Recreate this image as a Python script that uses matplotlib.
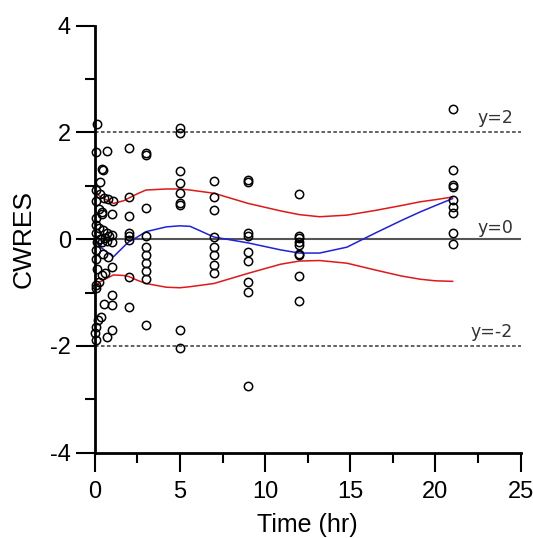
import numpy as np
import matplotlib
matplotlib.use('Agg')
import matplotlib.pyplot as plt

plt.rcParams['axes.unicode_minus'] = False

# osservazioni CWRES per tempo (hr)
t_obs = np.array([
    0.15, 0.1, 0.75, 0.45, 0.5, 0.3, 0.1, 0.3, 0.55, 0.8, 1.05, 0.05, 0.25, 0.4, 0.45, 1.0,
    0.1, 0.05, 0.25, 0.5, 0.75, 0.05, 1.0, 0.3, 0.6, 0.85, 0.15, 0.45, 0.7, 1.0, 0.1, 0.5,
    0.1, 0.8, 0.15, 1.0, 0.6, 0.45, 0.25, 0.1, 0.05, 1.0, 0.55, 1.0, 0.35, 0.2, 0.1, 1.0,
    0.0, 0.75, 0.05,
    2, 2, 2, 2, 2, 2, 2, 2,
    3, 3, 3, 3, 3, 3, 3, 3, 3, 3,
    5, 5, 5, 5, 5, 5, 5, 5, 5,
    7, 7, 7, 7, 7, 7, 7, 7,
    9, 9, 9, 9, 9, 9, 9, 9, 9,
    12, 12, 12, 12, 12, 12, 12, 12, 12,
    21, 21, 21, 21, 21, 21, 21, 21, 21])
cwres = np.array([
    2.15, 1.63, 1.65, 1.31, 1.29, 1.08, 0.93, 0.85, 0.78, 0.75, 0.72, 0.72, 0.57, 0.50, 0.47, 0.48,
    0.40, 0.26, 0.20, 0.17, 0.12, 0.11, 0.07, 0.0, 0.02, 0.05, -0.05, -0.06, -0.04, -0.05, -0.20, -0.27,
    -0.37, -0.33, -0.55, -0.52, -0.63, -0.68, -0.80, -0.86, -0.92, -1.05, -1.22, -1.24, -1.45, -1.52, -1.64, -1.70,
    -1.76, -1.84, -1.89,
    1.70, 0.79, 0.43, 0.11, 0.06, -0.02, -0.71, -1.27,
    1.62, 1.57, 0.58, 0.05, -0.15, -0.30, -0.45, -0.60, -0.75, -1.60,
    2.08, 1.98, 1.27, 1.05, 0.86, 0.67, 0.64, -1.70, -2.04,
    1.09, 0.79, 0.54, 0.04, -0.15, -0.30, -0.49, -0.64,
    1.10, 1.07, 0.11, 0.06, -0.24, -0.41, -0.80, -0.99, -2.75,
    0.84, 0.06, 0.02, -0.05, -0.11, -0.27, -0.30, -0.69, -1.16,
    2.43, 1.29, 1.01, 0.97, 0.73, 0.61, 0.49, 0.11, -0.09])

# curve di tendenza
t_fit = np.array([0.0, 0.3, 1.1, 1.7, 2.0, 2.5, 3.0, 4.2, 5.0, 5.6, 7.0, 9.0, 10.9, 12.0,
                  13.2, 14.8, 16.5, 18.0, 19.1, 20.0, 21.0])
med_fit = np.array([-0.02, -0.14, -0.33, -0.14, -0.05, 0.04, 0.14, 0.23, 0.25, 0.24, 0.04,
                    -0.07, -0.20, -0.26, -0.26, -0.15, 0.12, 0.35, 0.51, 0.63, 0.76])
up_fit = np.array([0.90, 0.80, 0.67, 0.72, 0.77, 0.85, 0.92, 0.94, 0.94, 0.92, 0.86, 0.67,
                   0.53, 0.46, 0.42, 0.45, 0.54, 0.63, 0.70, 0.74, 0.79])
lo_fit = np.array([-0.89, -0.80, -0.67, -0.68, -0.70, -0.77, -0.83, -0.90, -0.91, -0.89, -0.83,
                   -0.64, -0.47, -0.41, -0.40, -0.45, -0.58, -0.69, -0.75, -0.78, -0.79])

ref_y = [2, 0, -2]
ref_lab = ['y=2', 'y=0', 'y=-2']

fig = plt.figure(figsize=(5.33, 5.38), dpi=100)
ax = fig.add_axes([0.1777, 0.1585, 0.7992, 0.7939])

ax.axhline(2, color='#555555', lw=1.3, ls=(0, (2.0, 1.3)), zorder=1)
ax.axhline(-2, color='#555555', lw=1.3, ls=(0, (2.0, 1.3)), zorder=1)
ax.axhline(0, color='#555555', lw=1.5, zorder=1)

ax.plot(t_obs, cwres, 'o', mfc='none', mec='black', ms=6, mew=1.1, zorder=3, clip_on=False)
ax.plot(t_fit, up_fit, color='#e01818', lw=1.1, zorder=2)
ax.plot(t_fit, lo_fit, color='#e01818', lw=1.1, zorder=2)
ax.plot(t_fit, med_fit, color='#2020e0', lw=1.1, zorder=2)

offs = [0.17, 0.11, 0.16]
for yv, lab, o in zip(ref_y, ref_lab, offs):
    ax.text(24.55, yv + o, lab, ha='right', va='baseline', fontsize=12.5,
            color='#333333', family='DejaVu Sans')

ax.set_xlim(0, 25)
ax.set_ylim(-4, 4)
ax.set_xticks([0, 5, 10, 15, 20, 25])
ax.set_xticks([2.5, 7.5, 12.5, 17.5, 22.5], minor=True)
ax.set_yticks([-4, -2, 0, 2, 4])
ax.set_yticks([-3, -1, 1, 3], minor=True)

for s in ['top', 'right']:
    ax.spines[s].set_visible(False)
for s in ['left', 'bottom']:
    ax.spines[s].set_linewidth(2.0)

ax.tick_params(which='major', length=14, width=1.5, direction='out')
ax.tick_params(which='minor', length=7, width=1.5, direction='out')
ax.tick_params(axis='y', which='major', pad=3)
ax.tick_params(axis='x', which='major', pad=6)
for lbl in ax.get_xticklabels() + ax.get_yticklabels():
    lbl.set_family('Liberation Sans')
    lbl.set_fontsize(17)

ax.set_xlabel('Time (hr)', fontsize=18, family='Liberation Sans')
ax.set_ylabel('CWRES', fontsize=19, family='Liberation Sans')
ax.xaxis.set_label_coords(0.5, -0.142)
ax.yaxis.set_label_coords(-0.138, 0.5)

fig.savefig('out.png', dpi=100)
